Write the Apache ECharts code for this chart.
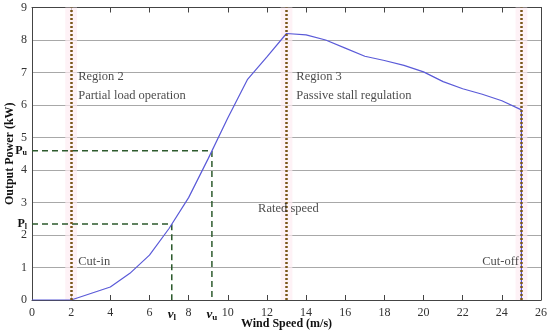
<!DOCTYPE html>
<html>
<head>
<meta charset="utf-8">
<script src="https://cdn.jsdelivr.net/npm/echarts@6/dist/echarts.min.js"></script>
<style>html,body{margin:0;padding:0;background:#fff}#c{width:550px;height:334px}</style>
</head>
<body>
<div id="c"></div>
<script>
// ---- data ----
const windSpeed = [0, 2, 4, 5, 6, 7, 8, 9, 10, 11, 12, 13, 14, 15, 16, 17, 18, 19, 20, 21, 22, 23, 24, 25, 25];
const outputPower = [0, 0, 0.4, 0.82, 1.38, 2.2, 3.15, 4.35, 5.6, 6.78, 7.48, 8.2, 8.16, 8.0, 7.75, 7.5, 7.37, 7.22, 7.02, 6.72, 6.5, 6.33, 6.13, 5.85, 0];
const xTicks = [0, 2, 4, 6, 8, 10, 12, 14, 16, 18, 20, 22, 24, 26];
const yTicks = [0, 1, 2, 3, 4, 5, 6, 7, 8, 9];
const vL = 7.14, vU = 9.19, pL = 2.34, pU = 4.59;
const regionLines = [2, 13, 25];
const annotationTexts = ['Region 2', 'Partial load operation', 'Region 3', 'Passive stall regulation', 'Rated speed', 'Cut-in', 'Cut-off'];

const serif = 'Liberation Serif';
const near = (a, b) => Math.abs(a - b) < 1e-6;

const annotationPos = [[2.36, 6.88], [2.36, 6.28], [13.5, 6.88], [13.5, 6.28], [11.55, 2.8], [2.36, 1.17], [23.0, 1.17]];

const chart = echarts.init(document.getElementById('c'), null, {renderer: 'canvas'});
chart.setOption({
  animation: false,
  backgroundColor: '#fff',
  grid: {left: 32, right: 9, top: 7.5, bottom: 34, outerBoundsMode: 'none', containLabel: false},
  xAxis: [{
    type: 'value', min: 0, max: 26, interval: 2,
    name: 'Wind Speed (m/s)', nameLocation: 'middle', nameGap: 18, nameMoveOverlap: false,
    nameTextStyle: {fontFamily: serif, fontWeight: 'bold', fontSize: 12, color: '#111'},
    axisLine: {show: true, onZero: false, lineStyle: {color: '#444', width: 1}},
    axisTick: {show: true, inside: true, length: 5, lineStyle: {color: '#444'}, customValues: xTicks},
    axisLabel: {
      customValues: [0, 2, 4, 6, vL, 8, vU, 10, 12, 14, 16, 18, 20, 22, 24, 26],
      margin: 7, color: '#333', fontFamily: serif, fontSize: 12,
      formatter: v => near(v, vL) ? '{b|v}{s|l}' : near(v, vU) ? '{b|v}{s|u}' : String(v),
      rich: {
        b: {fontFamily: serif, fontWeight: 'bold', fontStyle: 'italic', fontSize: 13, color: '#111'},
        s: {fontFamily: serif, fontWeight: 'bold', fontSize: 9, color: '#111', padding: [6, 0, 0, 0]}
      }
    },
    splitLine: {show: false}
  }, {
    type: 'value', min: 0, max: 26, interval: 2, position: 'top',
    axisLine: {show: true, onZero: false, lineStyle: {color: '#444'}},
    axisTick: {show: true, inside: true, length: 5, lineStyle: {color: '#444'}},
    axisLabel: {show: false}, splitLine: {show: false}
  }],
  yAxis: [{
    type: 'value', min: 0, max: 9, interval: 1,
    name: 'Output Power (kW)', nameLocation: 'middle', nameGap: 16, nameMoveOverlap: false,
    nameTextStyle: {fontFamily: serif, fontWeight: 'bold', fontSize: 12, color: '#111'},
    axisLine: {show: true, onZero: false, lineStyle: {color: '#444'}},
    axisTick: {show: false, customValues: yTicks},
    axisLabel: {
      customValues: [0, 1, 2, pL, 3, 4, pU, 5, 6, 7, 8, 9],
      margin: 5, color: '#333', fontFamily: serif, fontSize: 12,
      formatter: v => near(v, pL) ? '{b|P}{s|l}' : near(v, pU) ? '{b|P}{s|u}' : String(v),
      rich: {
        b: {fontFamily: serif, fontWeight: 'bold', fontSize: 12, color: '#111'},
        s: {fontFamily: serif, fontWeight: 'bold', fontSize: 8, color: '#111', padding: [5, 0, 0, 0]}
      }
    },
    splitLine: {show: true, lineStyle: {color: '#a8a8a8', width: 1}}
  }, {
    type: 'value', min: 0, max: 9, interval: 1, position: 'right',
    axisLine: {show: true, onZero: false, lineStyle: {color: '#444'}},
    axisTick: {show: false}, axisLabel: {show: false}, splitLine: {show: false}
  }],
  series: [
    {
      type: 'line', name: 'bands', data: [], silent: true,
      markArea: {
        silent: true,
        itemStyle: {color: 'rgba(253,236,242,0.7)'},
        data: regionLines.map(x => [{xAxis: x - 0.3}, {xAxis: x + 0.3}])
      }
    },
    {
      type: 'line', name: 'Pl', data: [[0, pL], [vL, pL], [vL, 0]], symbol: 'none',
      lineStyle: {color: '#2d5a2d', width: 1.5, type: [6, 4]}, z: 3
    },
    {
      type: 'line', name: 'Pu', data: [[0, pU], [vU, pU], [vU, 0]], symbol: 'none',
      lineStyle: {color: '#2d5a2d', width: 1.5, type: [6, 4]}, z: 3
    },
    {
      type: 'line', name: 'power', data: windSpeed.map((x, i) => [x, outputPower[i]]),
      symbol: 'none', lineStyle: {color: '#5a5ad8', width: 1.2}, z: 4
    },
    {
      type: 'line', name: 'vlines', data: [], silent: true, z: 5,
      markLine: {
        silent: true, symbol: ['none', 'none'], label: {show: false},
        lineStyle: {color: '#7a5618', width: 2.5, type: [2, 2]},
        data: regionLines.map(x => ({xAxis: x}))
      }
    },
    {
      type: 'scatter', name: 'notes', symbolSize: 0, silent: true, z: 6,
      data: annotationTexts.map((t, i) => ({value: annotationPos[i], name: t})),
      label: {
        show: true, position: 'right', distance: 0, formatter: p => p.name,
        fontFamily: serif, fontSize: 12.5, color: '#1a1a1a'
      }
    }
  ]
});
</script>
</body>
</html>
